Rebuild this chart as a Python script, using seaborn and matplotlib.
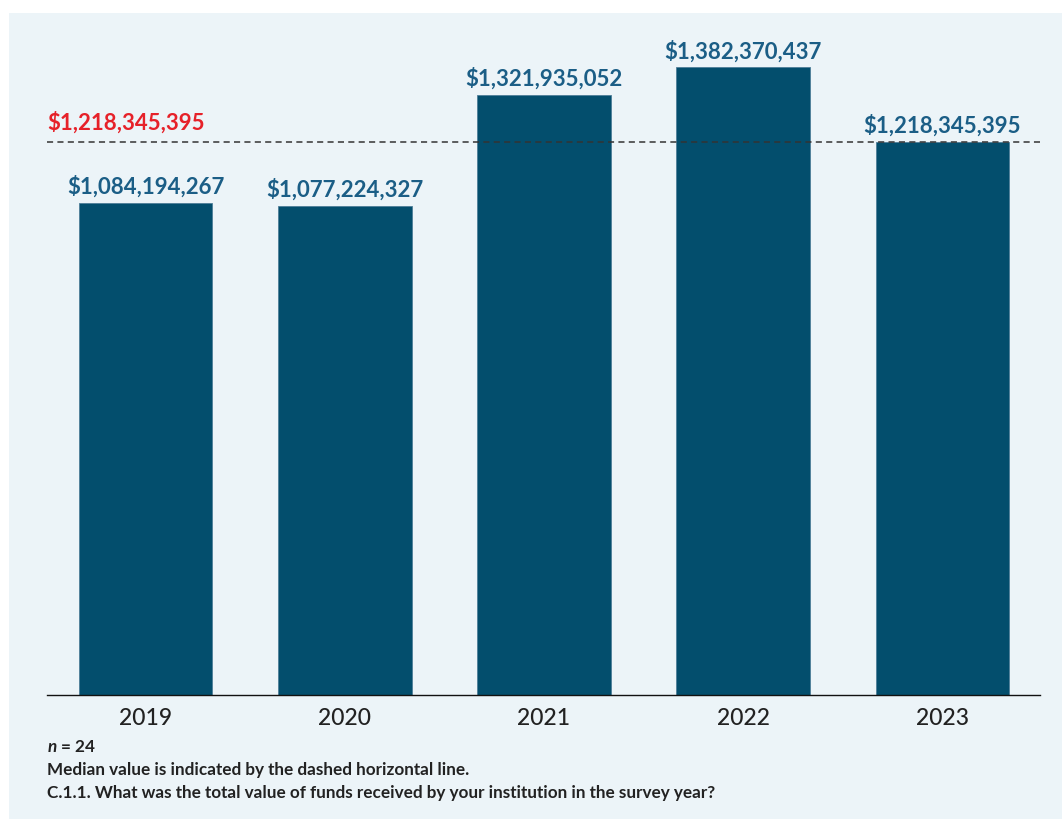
import matplotlib
matplotlib.use("Agg")
import matplotlib.pyplot as plt
import seaborn as sns
import pandas as pd
from matplotlib.patches import Rectangle

years = ["2019", "2020", "2021", "2022", "2023"]
values = [1084194267, 1077224327, 1321935052, 1382370437, 1218345395]
median_value = 1218345395
footer_lines = ["Median value is indicated by the dashed horizontal line.",
                "C.1.1. What was the total value of funds received by your institution in the survey year?"]

sns.set_theme(style="white")
plt.rcParams['font.family'] = ['Lato', 'DejaVu Sans']
plt.rcParams['mathtext.fontset'] = 'custom'
plt.rcParams['mathtext.it'] = 'Lato:italic:bold'
plt.rcParams['mathtext.rm'] = 'Lato:bold'

W, H = 1062, 820
fig = plt.figure(figsize=(W / 100, H / 100), dpi=100)
fig.patch.set_facecolor("white")
fig.patches.append(Rectangle((9 / W, 0), 1 - 9 / W, 1 - 14 / H, transform=fig.transFigure,
                             facecolor="#ECF4F8", edgecolor="none", zorder=-10))

ax = fig.add_axes([47 / W, 124 / H, 993 / W, 666 / H])
ax.set_facecolor("none")

df = pd.DataFrame({"year": years, "value": values})
sns.barplot(data=df, x="year", y="value", color="#034E6D", saturation=1, width=0.67, ax=ax,
            edgecolor="#4E7E98", linewidth=0.6)

ax.set_ylim(0, 666 / 454 * 1e9)
ax.set_xlim(-0.495, 4.49)
ax.axhline(median_value, color="#333333", linestyle=(0, (4, 2.8)), linewidth=1.1, zorder=5)

for i, v in enumerate(values):
    ax.text(i, v + 0.013e9, f"${v:,.0f}", ha="center", va="bottom",
            fontsize=16, fontweight="bold", color="#1B5E86")

ax.text(-0.495, median_value + 0.02e9, f"${median_value:,.0f}", ha="left", va="bottom",
        fontsize=16, fontweight="bold", color="#E62129")

for s in ["top", "right", "left"]:
    ax.spines[s].set_visible(False)
ax.spines["bottom"].set_color("#111111")
ax.spines["bottom"].set_linewidth(1.0)
ax.set_yticks([])
ax.set_xlabel("")
ax.set_ylabel("")
ax.tick_params(axis="x", length=0, labelsize=16.5, labelcolor="#222222", pad=9)
for lbl in ax.get_xticklabels():
    lbl.set_fontweight("medium")

fig.text(47 / W, 1 - 747 / H, "$\\it{n}$ = 24", ha="left", va="center", fontsize=12.3,
         fontweight="bold", color="#222222")
fig.text(47 / W, 1 - 770 / H, footer_lines[0], ha="left", va="center", fontsize=12.3,
         fontweight="bold", color="#222222")
fig.text(47 / W, 1 - 793 / H, footer_lines[1], ha="left", va="center", fontsize=12.3,
         fontweight="bold", color="#222222")

fig.savefig("out.png", dpi=100, facecolor=fig.get_facecolor())
